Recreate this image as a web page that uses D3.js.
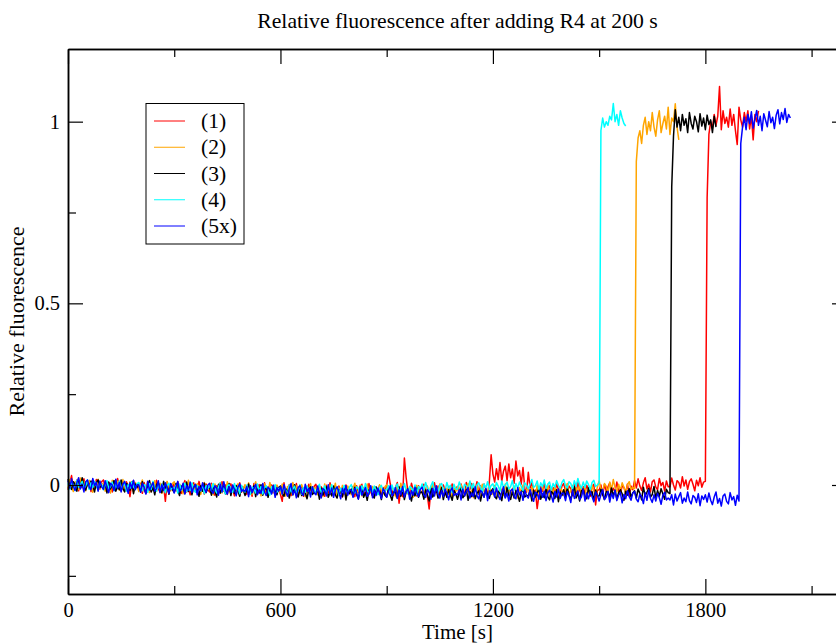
<!DOCTYPE html>
<html>
<head>
<meta charset="utf-8">
<script src="https://cdn.jsdelivr.net/npm/d3@7"></script>
<style>
  html, body { margin: 0; padding: 0; background: #fff; }
  svg { display: block; }
  text { font-family: "Liberation Serif", "Times New Roman", serif; fill: #000; }
</style>
</head>
<body>
<svg id="chart" width="836" height="644"></svg>
<script>
// ---------------- data ----------------
const seriesNames = ["(1)", "(2)", "(3)", "(4)", "(5x)"];
const seriesColors = ["#ff0000", "#ffa500", "#000000", "#00ffff", "#0000ff"];
const sampleStep = 5; // seconds between samples, all series start at t = 0

// (1) red, 0..1950 s
const series1 = [
  -.013,.004,.026,-.009,-.002,.014,-.016,.008,-.006,.017,-.012,.003,.01,-.018,.005,-.007,.015,-.001,-.011,.009,
  .014,-.007,-.014,.007,0,-.019,.011,-.01,.018,-.005,-.016,.005,-.012,.009,-.003,-.032,.004,.012,-.009,-.004,
  -.009,.005,-.023,.007,-.012,0,.011,-.018,-.004,-.014,.013,-.011,-.02,.003,-.002,-.045,.008,-.025,.002,-.008,
  .004,-.016,.009,-.011,-.023,-.002,.012,-.019,-.006,-.027,.001,.006,-.014,-.021,.01,-.01,-.001,-.025,.003,-.013,
  -.019,.005,-.014,-.028,-.002,-.007,-.022,.009,-.017,0,-.026,-.005,.003,-.012,-.03,-.001,-.016,.006,-.02,-.006,
  -.006,-.026,-.001,-.013,-.031,.004,-.02,-.01,.001,-.023,-.016,.006,-.027,-.005,-.021,0,-.015,-.029,-.002,-.011,
  -.026,-.045,.006,-.022,-.015,.001,-.029,-.005,-.019,.004,-.025,-.01,-.003,-.031,-.008,-.02,.002,-.014,-.024,-.004,
  .002,-.019,-.026,-.005,-.012,-.031,-.001,-.022,.006,-.017,-.028,-.007,-.024,-.003,-.015,-.033,-.008,0,-.021,-.016,
  -.018,-.004,-.032,-.002,-.021,-.009,.002,-.027,-.013,-.023,.004,-.02,-.029,-.006,-.011,-.025,-.001,-.034,-.007,-.017,
  -.001,.033,.004,-.016,-.028,-.007,.007,-.05,-.011,-.032,.074,.02,-.019,-.026,.005,-.015,-.006,-.03,-.002,-.018,
  -.022,.002,-.017,-.031,-.066,-.01,-.025,.006,-.02,-.003,-.029,-.008,0,-.015,-.033,-.004,-.019,.003,-.023,-.009,
  -.004,-.024,.003,-.015,-.028,.007,-.018,-.012,.004,-.021,-.013,.009,-.025,-.002,-.019,.003,-.012,-.027,.01,.083,
  .03,.008,.045,.015,.062,.01,.038,.052,.012,.058,.02,.044,.005,.066,.025,.04,.002,.048,-.01,-.02,
  .035,-.008,.007,-.021,-.014,-.065,-.028,-.004,-.018,.005,-.024,-.009,-.002,-.03,-.007,-.019,.003,-.013,-.023,-.003,
  .004,-.017,-.024,-.003,-.01,-.029,.001,-.02,.008,-.015,-.026,-.005,-.022,-.001,-.013,-.031,-.006,.002,-.055,-.014,
  -.014,0,-.028,.002,-.017,-.005,.006,-.023,-.009,-.019,.008,-.016,-.025,-.002,-.007,-.021,.003,-.03,-.003,-.013,
  .012,-.008,.017,-.003,-.015,.006,.02,-.011,.002,-.019,.009,.014,-.006,-.013,.018,-.002,.007,-.017,.011,-.005,
  -.005,.019,0,-.014,.012,.007,-.008,.023,-.003,.014,-.012,.009,.017,.002,-.016,.013,-.002,.02,-.006,.008,
  .01,.79,.965,1,.982,1.02,.99,1.015,1.097,.978,1.03,.995,1.012,.985,1.035,.99,1.02,.975,.937,1.04,
  1.005,.985,1.025,1,1.03,.98,1.015,.95,1.02,1,1.03
];

// (2) orange, 0..1725 s
const series2 = [
  -.009,.015,-.004,-.018,.008,.003,-.012,.019,-.007,.01,-.016,.005,.013,-.002,-.02,.009,-.006,.016,-.01,.004,
  .003,-.017,.008,-.004,-.022,.013,-.011,-.001,.01,-.014,-.007,.015,-.018,.004,-.012,.009,-.006,-.02,.007,-.002,
  -.018,-.001,.014,-.014,-.007,.009,-.021,.003,-.011,.012,-.017,-.002,.005,-.023,0,-.012,.01,-.006,-.016,.004,
  .009,-.012,-.019,.002,-.005,-.024,.006,-.015,.013,-.01,-.021,0,-.017,.004,-.008,-.026,-.001,.007,-.014,-.009,
  -.013,.001,-.027,.003,-.016,-.004,.007,-.022,-.008,-.018,.009,-.015,-.024,-.001,-.006,-.02,.004,-.029,-.002,-.012,
  .001,-.019,.006,-.014,-.026,-.005,.009,-.022,-.009,-.03,-.002,.003,-.017,-.024,.007,-.013,-.004,-.028,0,-.016,
  -.021,.003,-.016,-.03,-.004,-.009,-.024,.007,-.019,-.002,-.028,-.007,.001,-.014,-.032,-.003,-.018,.004,-.022,-.008,
  -.007,-.027,-.002,-.014,-.032,.003,-.021,-.011,0,-.024,-.017,.005,-.028,-.006,-.022,-.001,-.016,-.03,-.003,-.012,
  -.027,-.01,.005,-.023,-.016,0,-.03,-.006,-.02,.003,-.026,-.011,-.004,-.032,-.009,-.021,.001,-.015,-.025,-.005,
  .001,-.02,-.027,-.006,-.013,-.032,-.002,-.023,.005,-.018,-.029,-.008,-.025,-.004,-.016,-.034,-.009,-.001,-.022,-.017,
  -.019,-.005,-.033,-.003,-.022,-.01,.001,-.028,-.014,-.024,.003,-.021,-.03,-.007,-.012,-.026,-.002,-.035,-.008,-.018,
  -.004,-.024,.001,-.019,-.031,-.01,.004,-.027,-.014,-.035,-.007,-.002,-.022,-.029,.002,-.018,-.009,-.033,-.005,-.021,
  -.025,-.001,-.02,-.034,-.008,-.013,-.028,.003,-.023,-.006,-.032,-.011,-.003,-.018,-.036,-.007,-.022,0,-.026,-.012,
  -.01,-.03,-.005,-.017,-.035,0,-.024,-.014,-.003,-.027,-.02,.002,-.031,-.009,-.025,-.004,-.019,-.033,-.006,-.015,
  -.028,-.011,.004,-.024,-.017,-.001,-.031,-.007,-.021,.002,-.027,-.012,-.005,-.033,-.01,-.022,0,-.016,-.026,-.006,
  .011,-.01,-.017,.004,-.003,-.022,.008,-.013,.015,-.008,-.019,.002,-.015,.006,-.006,-.024,.001,.009,-.012,-.007,
  -.01,.89,.955,.975,.94,.99,1.012,.965,1,.975,1.025,.985,.96,1.005,1.03,.97,.995,1.015,.98,1.04,
  .965,1.01,1,1.049,.985,.95
];

// (3) black, 0..1830 s
const series3 = [
  .016,-.005,-.012,.009,.002,-.017,.013,-.008,.02,-.003,-.014,.007,-.01,.011,-.001,-.019,.006,.014,-.007,-.002,
  -.008,.006,-.022,.008,-.011,.001,.012,-.017,-.003,-.013,.014,-.01,-.019,.004,-.001,-.015,.009,-.024,.003,-.007,
  .004,-.016,.009,-.011,-.023,-.002,.012,-.019,-.006,-.027,.001,.006,-.014,-.021,.01,-.01,-.001,-.025,.003,-.013,
  -.02,.004,-.015,-.029,-.003,-.008,-.023,.008,-.018,-.001,-.027,-.006,.002,-.013,-.031,-.002,-.017,.005,-.021,-.007,
  -.008,-.028,-.003,-.015,-.033,.002,-.022,-.012,-.001,-.025,-.018,.004,-.029,-.007,-.023,-.002,-.017,-.031,-.004,-.013,
  -.029,-.012,.003,-.025,-.018,-.002,-.032,-.008,-.022,.001,-.028,-.013,-.006,-.034,-.011,-.023,-.001,-.017,-.027,-.007,
  -.003,-.024,-.031,-.01,-.017,-.036,-.006,-.027,.001,-.022,-.033,-.012,-.029,-.008,-.02,-.038,-.013,-.005,-.026,-.021,
  -.025,-.011,-.039,-.009,-.028,-.016,-.005,-.034,-.02,-.03,-.003,-.027,-.036,-.013,-.018,-.032,-.008,-.041,-.014,-.024,
  -.011,-.031,-.006,-.026,-.038,-.017,-.003,-.034,-.021,-.042,-.014,-.009,-.029,-.036,-.005,-.025,-.016,-.04,-.012,-.028,
  -.033,-.009,-.028,-.042,-.016,-.021,-.036,-.005,-.031,-.014,-.04,-.019,-.011,-.026,-.044,-.015,-.03,-.008,-.034,-.02,
  -.019,-.039,-.014,-.026,-.044,-.009,-.033,-.023,-.012,-.036,-.029,-.007,-.04,-.018,-.034,-.013,-.028,-.042,-.015,-.024,
  -.039,-.022,-.007,-.035,-.028,-.012,-.042,-.018,-.032,-.009,-.038,-.023,-.016,-.044,-.021,-.033,-.011,-.027,-.037,-.017,
  -.01,-.031,-.038,-.017,-.024,-.043,-.013,-.034,-.006,-.029,-.04,-.019,-.036,-.015,-.027,-.045,-.02,-.012,-.033,-.028,
  -.03,-.016,-.044,-.014,-.033,-.021,-.01,-.039,-.025,-.035,-.008,-.032,-.041,-.018,-.023,-.037,-.013,-.046,-.019,-.029,
  -.013,-.033,-.008,-.028,-.04,-.019,-.005,-.036,-.023,-.044,-.016,-.011,-.031,-.038,-.007,-.027,-.018,-.042,-.014,-.03,
  -.03,-.012,-.026,-.04,-.018,-.02,-.034,-.008,-.029,-.016,-.038,-.021,-.013,-.024,-.042,-.017,-.028,-.01,-.033,-.022,
  -.016,-.036,-.011,-.023,-.041,-.006,-.03,-.02,-.009,-.033,-.026,-.004,-.037,-.015,-.031,-.01,-.025,-.039,-.012,-.021,
  -.024,.82,.96,1.033,.985,1.012,.975,1.02,.99,1.008,.97,1.025,.995,.98,1.015,1,.972,1.022,.988,1.01,
  .978,1.018,.992,1.005,.97,1.015,.985
];

// (4) cyan, 0..1575 s
const series4 = [
  .005,-.011,.009,-.001,-.015,.013,-.006,.002,.01,-.009,-.003,.014,-.012,.006,-.007,.01,-.002,-.014,.008,.001,
  -.013,0,.012,-.01,-.005,.008,-.016,.003,-.008,.011,-.013,-.001,.005,-.017,.001,-.009,.009,-.004,-.012,.004,
  .007,-.01,-.016,.001,-.004,-.02,.004,-.012,.01,-.008,-.017,0,-.014,.003,-.007,-.021,-.001,.005,-.012,-.008,
  -.011,0,-.022,.002,-.014,-.004,.005,-.018,-.007,-.015,.006,-.013,-.02,-.002,-.006,-.017,.002,-.024,-.002,-.01,
  0,-.016,.004,-.012,-.022,-.005,.006,-.019,-.008,-.025,-.003,.001,-.015,-.02,.004,-.012,-.004,-.024,-.001,-.014,
  -.019,0,-.015,-.026,-.006,-.01,-.022,.003,-.018,-.004,-.025,-.008,-.002,-.014,-.028,-.005,-.017,.001,-.02,-.009,
  -.008,-.024,-.004,-.014,-.028,0,-.019,-.011,-.003,-.022,-.016,.001,-.025,-.007,-.02,-.003,-.015,-.027,-.005,-.012,
  -.023,-.01,.002,-.02,-.015,-.002,-.026,-.007,-.018,.001,-.023,-.011,-.005,-.027,-.009,-.019,-.001,-.014,-.022,-.006,
  .001,-.016,-.022,-.005,-.01,-.026,-.002,-.018,.004,-.014,-.023,-.006,-.02,-.003,-.013,-.027,-.007,-.001,-.018,-.014,
  -.013,-.002,-.024,0,-.016,-.006,.003,-.02,-.009,-.017,.004,-.015,-.022,-.004,-.008,-.019,0,-.026,-.004,-.012,
  .003,-.013,.007,-.009,-.019,-.002,.009,-.016,-.005,-.022,0,.004,-.012,-.017,.007,-.009,-.001,-.021,.002,-.011,
  -.011,.008,-.007,-.018,.002,-.002,-.014,.011,-.01,.004,-.017,0,.006,-.006,-.02,.003,-.009,.009,-.012,-.001,
  .003,-.013,.007,-.003,-.017,.011,-.008,0,.008,-.011,-.005,.012,-.014,.004,-.009,.008,-.004,-.016,.006,-.001,
  -.01,.003,.015,-.007,-.002,.011,-.013,.006,-.005,.014,-.01,.002,.008,-.014,.004,-.006,.012,-.001,-.009,.007,
  .015,-.002,-.008,.009,.004,-.012,.012,-.004,.018,0,-.009,.008,-.006,.011,.001,-.013,.007,.013,-.004,0,
  .006,.975,1.01,.985,1,.99,1.015,1.005,1.05,1,1.02,.99,1.03,1.01,.995,.988
];

// (5x) blue, 0..2040 s
const series5 = [
  .012,-.008,.017,-.003,-.015,.006,.02,-.011,.002,-.019,.009,.014,-.006,-.013,.018,-.002,.007,-.017,.011,-.005,
  -.012,.012,-.007,-.021,.005,0,-.015,.016,-.01,.007,-.019,.002,.01,-.005,-.023,.006,-.009,.013,-.013,.001,
  0,-.02,.005,-.007,-.025,.01,-.014,-.004,.007,-.017,-.01,.012,-.021,.001,-.015,.006,-.009,-.023,.004,-.005,
  -.022,-.005,.01,-.018,-.011,.005,-.025,-.001,-.015,.008,-.021,-.006,.001,-.027,-.004,-.016,.006,-.01,-.02,0,
  .005,-.016,-.023,-.002,-.009,-.028,.002,-.019,.009,-.014,-.025,-.004,-.021,0,-.012,-.03,-.005,.003,-.018,-.013,
  -.018,-.004,-.032,-.002,-.021,-.009,.002,-.027,-.013,-.023,.004,-.02,-.029,-.006,-.011,-.025,-.001,-.034,-.007,-.017,
  -.004,-.024,.001,-.019,-.031,-.01,.004,-.027,-.014,-.035,-.007,-.002,-.022,-.029,.002,-.018,-.009,-.033,-.005,-.021,
  -.027,-.003,-.022,-.036,-.01,-.015,-.03,.001,-.025,-.008,-.034,-.013,-.005,-.02,-.038,-.009,-.024,-.002,-.028,-.014,
  -.014,-.034,-.009,-.021,-.039,-.004,-.028,-.018,-.007,-.031,-.024,-.002,-.035,-.013,-.029,-.008,-.023,-.037,-.01,-.019,
  -.034,-.017,-.002,-.03,-.023,-.007,-.037,-.013,-.027,-.004,-.033,-.018,-.011,-.039,-.016,-.028,-.006,-.022,-.032,-.012,
  -.006,-.027,-.034,-.013,-.02,-.039,-.009,-.03,-.002,-.025,-.036,-.015,-.032,-.011,-.023,-.041,-.016,-.008,-.029,-.024,
  -.027,-.013,-.041,-.011,-.03,-.018,-.007,-.036,-.022,-.032,-.005,-.029,-.038,-.015,-.02,-.034,-.01,-.043,-.016,-.026,
  -.013,-.033,-.008,-.028,-.04,-.019,-.005,-.036,-.023,-.044,-.016,-.011,-.031,-.038,-.007,-.027,-.018,-.042,-.014,-.03,
  -.036,-.012,-.031,-.045,-.019,-.024,-.039,-.008,-.034,-.017,-.043,-.022,-.014,-.029,-.047,-.018,-.033,-.011,-.037,-.023,
  -.023,-.043,-.018,-.03,-.048,-.013,-.037,-.027,-.016,-.04,-.033,-.011,-.044,-.022,-.038,-.017,-.032,-.046,-.019,-.028,
  -.044,-.027,-.012,-.04,-.033,-.017,-.047,-.023,-.037,-.014,-.043,-.028,-.021,-.049,-.026,-.038,-.016,-.032,-.042,-.022,
  -.018,-.039,-.046,-.025,-.032,-.051,-.021,-.042,-.014,-.037,-.048,-.027,-.044,-.023,-.035,-.053,-.028,-.02,-.041,-.036,
  -.041,-.027,-.055,-.025,-.044,-.032,-.021,-.05,-.036,-.046,-.019,-.043,-.052,-.029,-.034,-.048,-.024,-.057,-.03,-.04,
  -.027,-.047,-.022,-.042,-.054,-.033,-.019,-.05,-.037,-.058,-.03,-.025,-.045,-.052,-.021,-.041,-.032,-.056,-.028,-.044,
  .94,.985,1.012,.978,1.02,.995,1.027,.982,1.008,1.031,.99,1.015,.975,1.022,1.004,.986,1.028,.997,1.012,.981,
  1.018,1.033,.994,1.025,1.006,1.036,.998,1.02,1.01
];

const xMajorTicks = [0, 600, 1200, 1800];
const xMinorTicks = [300, 900, 1500, 2100];
const yMajorTicks = [0, 0.5, 1];
const yMinorTicks = [-0.25, 0.25, 0.75];
const xDomain = [0, 2200];
const yDomain = [-0.3, 1.2];
const titleText = "Relative fluorescence after adding R4 at 200 s";
const xTitle = "Time [s]";
const yTitle = "Relative fluorescence";

// ---------------- drawing ----------------
const svg = d3.select("#chart");
const margin = { left: 68, right: 847, top: 49, bottom: 594 };
const x = d3.scaleLinear().domain(xDomain).range([margin.left, margin.right]);
const y = d3.scaleLinear().domain(yDomain).range([margin.bottom, margin.top]);

const allSeries = [series1, series2, series3, series4, series5];

const line = d3.line()
  .x((d, i) => x(i * sampleStep))
  .y(d => y(d));

const plot = svg.append("g");
allSeries.forEach((s, k) => {
  plot.append("path")
    .datum(s)
    .attr("fill", "none")
    .attr("stroke", seriesColors[k])
    .attr("stroke-width", 1.5)
    .attr("stroke-linejoin", "round")
    .attr("d", line);
});

const tickFont = 20.5;
function styleAxis(g) {
  g.select(".domain").attr("stroke", "#000").attr("stroke-width", 1.5);
  g.selectAll(".tick line").attr("stroke", "#000").attr("stroke-width", 1.2);
  g.selectAll("text").attr("font-family", "Liberation Serif, serif")
    .attr("font-size", tickFont).attr("fill", "#000");
}

// bottom
svg.append("g").attr("transform", `translate(0,${margin.bottom})`)
  .call(d3.axisBottom(x).tickValues(xMajorTicks).tickSize(-15).tickSizeOuter(0).tickPadding(8).tickFormat(d3.format("d")))
  .call(styleAxis);
svg.append("g").attr("transform", `translate(0,${margin.bottom})`)
  .call(d3.axisBottom(x).tickValues(xMinorTicks).tickSize(-8).tickSizeOuter(0).tickFormat(""))
  .call(styleAxis);
// top
svg.append("g").attr("transform", `translate(0,${margin.top})`)
  .call(d3.axisTop(x).tickValues(xMajorTicks).tickSize(-15).tickSizeOuter(0).tickFormat(""))
  .call(styleAxis);
svg.append("g").attr("transform", `translate(0,${margin.top})`)
  .call(d3.axisTop(x).tickValues(xMinorTicks).tickSize(-8).tickSizeOuter(0).tickFormat(""))
  .call(styleAxis);
// left
svg.append("g").attr("transform", `translate(${margin.left},0)`)
  .call(d3.axisLeft(y).tickValues(yMajorTicks).tickSize(-15).tickSizeOuter(0).tickPadding(8).tickFormat(d3.format("")))
  .call(styleAxis);
svg.append("g").attr("transform", `translate(${margin.left},0)`)
  .call(d3.axisLeft(y).tickValues(yMinorTicks).tickSize(-8).tickSizeOuter(0).tickFormat(""))
  .call(styleAxis);
// right
svg.append("g").attr("transform", `translate(${margin.right},0)`)
  .call(d3.axisRight(y).tickValues(yMajorTicks).tickSize(-15).tickSizeOuter(0).tickFormat(""))
  .call(styleAxis);
svg.append("g").attr("transform", `translate(${margin.right},0)`)
  .call(d3.axisRight(y).tickValues(yMinorTicks).tickSize(-8).tickSizeOuter(0).tickFormat(""))
  .call(styleAxis);

// titles
svg.append("text").attr("x", (margin.left + margin.right) / 2).attr("y", 28)
  .attr("text-anchor", "middle").attr("font-size", 21.7).text(titleText);
svg.append("text").attr("x", (margin.left + margin.right) / 2).attr("y", 639)
  .attr("text-anchor", "middle").attr("font-size", 21).text(xTitle);
svg.append("text")
  .attr("transform", `translate(24,${(margin.top + margin.bottom) / 2}) rotate(-90)`)
  .attr("text-anchor", "middle").attr("font-size", 22).text(yTitle);

// legend
const legend = svg.append("g");
legend.append("rect").attr("x", 146).attr("y", 103.5).attr("width", 98).attr("height", 140.5)
  .attr("fill", "#fff").attr("stroke", "#000").attr("stroke-width", 1);
const legendRow = d3.scalePoint().domain(seriesNames).range([121, 226]);
seriesNames.forEach((name, k) => {
  const ly = legendRow(name);
  legend.append("line").attr("x1", 154).attr("x2", 185).attr("y1", ly).attr("y2", ly)
    .attr("stroke", seriesColors[k]).attr("stroke-width", 1);
  legend.append("text").attr("x", 201).attr("y", ly).attr("dy", "0.33em")
    .attr("font-size", 21.5).text(name);
});
</script>
</body>
</html>
